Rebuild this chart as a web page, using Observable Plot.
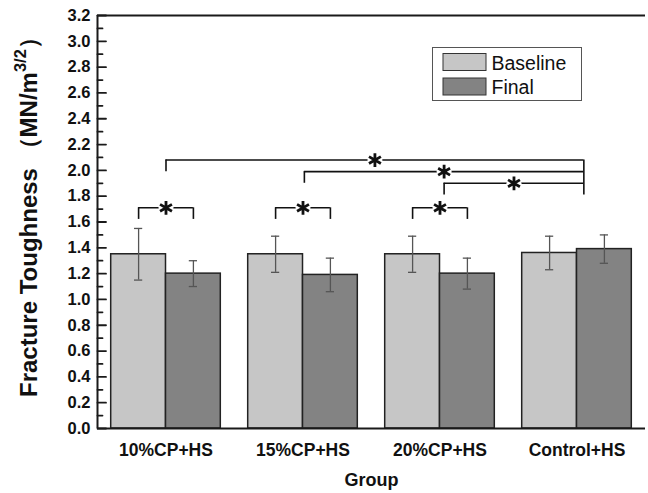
<!DOCTYPE html>
<html><head><meta charset="utf-8">
<script src="https://cdn.jsdelivr.net/npm/d3@7"></script>
<script src="https://cdn.jsdelivr.net/npm/@observablehq/plot@0.6"></script>
<style>
body{margin:0;background:#fff}
#chart{position:relative;width:648px;height:493px}
</style>
</head><body><div id="chart"></div>
<script>
// ---- data ----
const groups = ["10%CP+HS", "15%CP+HS", "20%CP+HS", "Control+HS"];
const seriesNames = ["Baseline", "Final"];
const baseline = [1.35, 1.35, 1.35, 1.36];
const baselineErr = [0.20, 0.14, 0.14, 0.13];
const final = [1.20, 1.19, 1.20, 1.39];
const finalErr = [0.10, 0.13, 0.12, 0.11];
const yTicks = [0.0, 0.2, 0.4, 0.6, 0.8, 1.0, 1.2, 1.4, 1.6, 1.8, 2.0, 2.2, 2.4, 2.6, 2.8, 3.0, 3.2];
const yMinorTicks = [0.1, 0.3, 0.5, 0.7, 0.9, 1.1, 1.3, 1.5, 1.7, 1.9, 2.1, 2.3, 2.5, 2.7, 2.9, 3.1];
// significance: within-group pairs (Baseline vs Final)
const pairGroups = [0, 1, 2];
const pairLevel = 1.71, pairLegBottom = 1.62;
// significance: cross-group brackets to Control+HS
const crossFrom = [0.0, 1.01, 2.03];
const crossTo = 3.05;
const crossLevel = [2.08, 1.99, 1.90];
const crossLegBottom = [1.99, 1.90, 1.81];

// ---- derived tables ----
const barW = 0.4, cap = 0.03;
const rows = groups.flatMap((g, i) => [
  {g, i, series: "Baseline", value: baseline[i], err: baselineErr[i], x1: i - barW, x2: i, cx: i - barW / 2},
  {g, i, series: "Final", value: final[i], err: finalErr[i], x1: i, x2: i + barW, cx: i + barW / 2}
]);
const pairs = pairGroups.map(i => ({a: i - barW / 2, b: i + barW / 2, y: pairLevel, y0: pairLegBottom}));
const cross = crossFrom.map((a, k) => ({a, b: crossTo, y: crossLevel[k], y0: crossLegBottom[k]}));
const stars = [...pairs, ...cross].map(d => ({x: (d.a + d.b) / 2, y: d.y}));
const colors = ["#c6c6c6", "#838383"];
const font = "'Liberation Sans', Arial, Helvetica, sans-serif";

const svg = Plot.plot({
  width: 648, height: 493,
  marginLeft: 97, marginRight: 3, marginTop: 15, marginBottom: 65,
  x: {domain: [-0.5, 3.5], axis: null},
  y: {domain: [0, 3.2], axis: null},
  color: {domain: seriesNames, range: colors},
  style: {fontFamily: font, background: "white", color: "#111"},
  marks: [
    Plot.rectY(rows, {x1: "x1", x2: "x2", y1: 0, y2: "value", fill: "series", stroke: "#222", strokeWidth: 1.5}),
    Plot.ruleX(rows, {x: "cx", y1: d => d.value - d.err, y2: d => d.value + d.err, stroke: "#555", strokeWidth: 1.3}),
    Plot.ruleY(rows, {y: d => d.value + d.err, x1: d => d.cx - cap, x2: d => d.cx + cap, stroke: "#555", strokeWidth: 1.3}),
    Plot.ruleY(rows, {y: d => d.value - d.err, x1: d => d.cx - cap, x2: d => d.cx + cap, stroke: "#555", strokeWidth: 1.3}),
    // brackets
    Plot.ruleY(pairs, {y: "y", x1: "a", x2: "b", stroke: "#111", strokeWidth: 1.6}),
    Plot.ruleX(pairs, {x: "a", y1: "y0", y2: "y", stroke: "#111", strokeWidth: 1.6}),
    Plot.ruleX(pairs, {x: "b", y1: "y0", y2: "y", stroke: "#111", strokeWidth: 1.6}),
    Plot.ruleY(cross, {y: "y", x1: "a", x2: "b", stroke: "#111", strokeWidth: 1.6}),
    Plot.ruleX(cross, {x: "a", y1: "y0", y2: "y", stroke: "#111", strokeWidth: 1.6}),
    Plot.ruleX([crossTo], {x: d => d, y1: d3.min(crossLegBottom), y2: d3.max(crossLevel), stroke: "#111", strokeWidth: 1.6}),
    Plot.dot(stars, {x: "x", y: "y", r: 7.5, fill: "white"}),
    Plot.dot(stars, {x: "x", y: "y", r: 6.5, symbol: "asterisk", stroke: "#111", strokeWidth: 2.8}),
    // frame (left, bottom, top)
    Plot.ruleY([0, 3.2], {stroke: "#1a1a1a", strokeWidth: 2}),
    Plot.ruleX([-0.5], {stroke: "#1a1a1a", strokeWidth: 2}),
    // inward ticks
    Plot.vector(yMinorTicks, {y: d => d, frameAnchor: "left", rotate: 90, length: 5, anchor: "start", stroke: "#1a1a1a", strokeWidth: 1.8, shape: {draw(c, l) { c.moveTo(0, 0); c.lineTo(0, -l); }}}),
    Plot.vector(yTicks, {y: d => d, frameAnchor: "left", rotate: 90, length: 8.5, anchor: "start", stroke: "#1a1a1a", strokeWidth: 1.8, shape: {draw(c, l) { c.moveTo(0, 0); c.lineTo(0, -l); }}}),
    Plot.axisY({ticks: yTicks, tickSize: 0, tickPadding: 7, tickFormat: d3.format(".1f"),
      fontSize: 16.5, fontWeight: "bold"}),
    Plot.axisX({ticks: [0, 1, 2, 3], tickFormat: i => groups[i], tickSize: 0, tickPadding: 15,
      fontSize: 17.5, fontWeight: "bold"}),
    Plot.text(["Group"], {frameAnchor: "bottom", dy: 57, lineAnchor: "bottom", fontSize: 18, fontWeight: "bold", text: d => d})
  ]
});
document.getElementById("chart").appendChild(svg);

const s = d3.select(svg);
// y axis title with superscript
const t = s.append("text")
  .attr("transform", "translate(37,397) rotate(-90)")
  .attr("text-anchor", "start")
  .attr("font-family", font).attr("font-weight", "bold").attr("font-size", 24).attr("fill", "#111");
t.append("tspan").text("Fracture Toughness （MN/m");
t.append("tspan").attr("font-size", 16.5).attr("dy", -11).text("3/2");
t.append("tspan").attr("dy", 11).text("）");

// legend
const lg = s.append("g").attr("font-family", font).attr("text-anchor", "start");
lg.append("rect").attr("x", 432.5).attr("y", 47.5).attr("width", 149).attr("height", 53)
  .attr("fill", "white").attr("stroke", "#555").attr("stroke-width", 1);
seriesNames.forEach((name, k) => {
  const yy = 53.5 + k * 24.5;
  lg.append("rect").attr("x", 443).attr("y", yy).attr("width", 43).attr("height", 17)
    .attr("fill", colors[k]).attr("stroke", "#333").attr("stroke-width", 1);
  lg.append("text").attr("x", 491.5).attr("y", yy + 16).attr("font-size", 19.5).attr("fill", "#111").text(name);
});
</script>
</body></html>
